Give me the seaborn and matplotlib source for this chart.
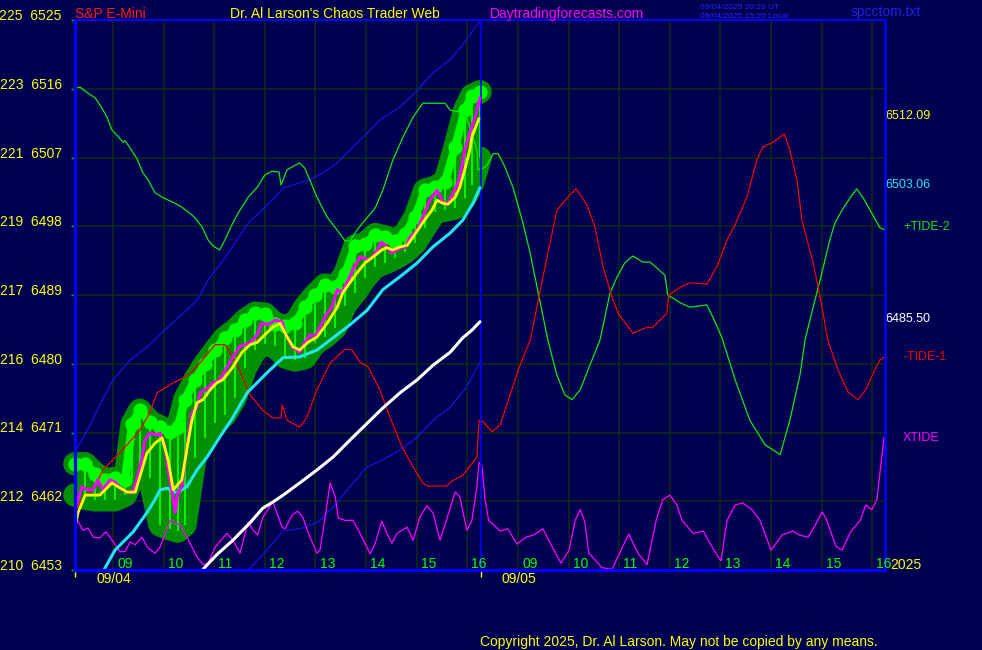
import numpy as np
import matplotlib
matplotlib.use("Agg")
import matplotlib.pyplot as plt
import matplotlib.transforms as mtrans
import seaborn as sns

# ---------------- data (time = session hours from 08:15 on 09/04; day 2 starts at 8.0) -------------
level_left = [210, 212, 214, 216, 217, 219, 221, 223, 225]
level_price = [6453, 6462, 6471, 6480, 6489, 6498, 6507, 6516, 6525]
hour_labels = ["09", "10", "11", "12", "13", "14", "15", "16"]
day_labels = ["09/04", "09/05"]

tide2 = [(0.00, 6516.1), (0.10, 6516.2), (0.26, 6515.4), (0.40, 6514.8), (0.53, 6513.5), (0.63, 6512.3),
         (0.73, 6510.6), (0.83, 6509.9), (0.95, 6509.0), (0.99, 6509.2), (1.09, 6508.2), (1.22, 6506.9),
         (1.34, 6505.0), (1.44, 6504.1), (1.58, 6502.4), (1.72, 6501.8), (1.98, 6501.0), (2.11, 6500.5),
         (2.27, 6499.7), (2.37, 6499.1), (2.51, 6497.9), (2.63, 6496.2), (2.73, 6495.4), (2.86, 6494.9),
         (2.96, 6496.2), (3.10, 6498.2), (3.22, 6499.7), (3.42, 6501.8), (3.60, 6503.1), (3.75, 6504.7),
         (3.89, 6505.2), (4.03, 6505.1), (4.07, 6503.4), (4.19, 6505.4), (4.44, 6506.3), (4.54, 6505.6),
         (4.78, 6501.8), (4.98, 6499.2), (5.18, 6497.5), (5.33, 6496.1), (5.43, 6496.1), (5.57, 6497.5),
         (5.73, 6498.8), (5.93, 6500.4), (6.08, 6502.7), (6.28, 6506.7), (6.48, 6509.7), (6.68, 6512.3),
         (6.87, 6514.1), (7.31, 6514.1), (7.41, 6513.2), (7.57, 6513.0), (7.74, 6512.2), (7.94, 6508.0),
         (7.96, 6505.4), (8.06, 6505.6), (8.14, 6506.0), (8.26, 6507.5), (8.36, 6507.5), (8.49, 6505.8),
         (8.65, 6503.1), (8.85, 6498.4), (8.99, 6494.5), (9.15, 6489.3), (9.34, 6483.1), (9.52, 6478.5),
         (9.68, 6475.9), (9.82, 6475.3), (9.98, 6476.6), (10.17, 6479.8), (10.37, 6483.1), (10.57, 6489.3),
         (10.71, 6491.4), (10.86, 6493.2), (11.02, 6494.1), (11.22, 6493.3), (11.36, 6493.3), (11.50, 6492.5),
         (11.65, 6491.6), (11.71, 6489.0), (11.95, 6488.0), (12.15, 6487.4), (12.48, 6487.7), (12.60, 6486.1),
         (12.78, 6483.4), (13.04, 6477.9), (13.33, 6472.6), (13.63, 6469.4), (13.93, 6468.1), (14.12, 6472.6),
         (14.32, 6478.5), (14.42, 6483.1), (14.58, 6487.4), (14.72, 6491.0), (14.91, 6496.2), (15.01, 6498.4),
         (15.15, 6500.1), (15.31, 6501.7), (15.44, 6502.9), (15.57, 6501.7), (15.74, 6499.7), (15.90, 6497.8),
         (16.00, 6497.5)]

tide1 = [(0.02, 6460.9), (0.14, 6462.2), (0.36, 6463.5), (0.55, 6466.1), (0.75, 6467.4), (0.99, 6469.1),
         (1.28, 6471.3), (1.48, 6473.6), (1.62, 6476.2), (1.94, 6477.5), (2.07, 6477.9), (2.31, 6478.9),
         (2.57, 6480.9), (2.77, 6482.5), (2.96, 6482.5), (3.16, 6480.5), (3.46, 6475.9), (3.71, 6473.9),
         (3.91, 6472.9), (4.07, 6472.9), (4.09, 6474.6), (4.19, 6472.6), (4.44, 6471.7), (4.58, 6473.0),
         (4.78, 6476.6), (5.04, 6480.1), (5.33, 6481.9), (5.47, 6481.8), (5.63, 6480.2), (5.79, 6479.6),
         (6.02, 6476.6), (6.22, 6473.0), (6.46, 6469.1), (6.68, 6466.5), (6.87, 6464.4), (6.97, 6464.0),
         (7.35, 6464.0), (7.41, 6464.5), (7.66, 6465.4), (7.94, 6467.8), (7.98, 6472.6), (8.06, 6472.4),
         (8.24, 6471.1), (8.40, 6472.0), (8.59, 6475.9), (8.79, 6479.8), (8.99, 6483.1), (9.15, 6488.3),
         (9.34, 6494.5), (9.52, 6500.1), (9.72, 6501.7), (9.90, 6502.9), (10.11, 6500.8), (10.27, 6497.9),
         (10.43, 6492.7), (10.61, 6488.7), (10.73, 6486.6), (11.02, 6484.0), (11.30, 6484.8), (11.40, 6484.7),
         (11.69, 6486.6), (11.73, 6489.0), (11.95, 6490.0), (12.15, 6490.6), (12.48, 6490.4), (12.68, 6492.7),
         (12.88, 6496.2), (13.04, 6498.2), (13.27, 6501.8), (13.47, 6506.7), (13.59, 6508.4), (13.79, 6509.0),
         (14.01, 6510.1), (14.12, 6508.0), (14.26, 6504.1), (14.36, 6498.8), (14.58, 6493.2), (14.72, 6488.7),
         (14.87, 6483.1), (15.07, 6479.2), (15.27, 6476.3), (15.47, 6475.3), (15.62, 6476.6), (15.80, 6479.2),
         (15.90, 6480.5), (16.00, 6480.9)]

xtide = [(0.02, 6459.8), (0.16, 6458.2), (0.26, 6458.5), (0.36, 6457.3), (0.49, 6457.2), (0.61, 6458.0),
         (0.69, 6457.3), (0.89, 6455.4), (0.99, 6455.4), (1.09, 6456.7), (1.19, 6456.3), (1.32, 6457.3),
         (1.44, 6455.9), (1.58, 6455.2), (1.68, 6456.0), (1.88, 6459.5), (2.07, 6458.9), (2.21, 6457.3),
         (2.41, 6454.7), (2.53, 6453.7), (2.63, 6453.9), (2.77, 6456.0), (3.00, 6457.8), (3.12, 6456.9),
         (3.26, 6455.2), (3.42, 6459.3), (3.52, 6458.2), (3.61, 6457.6), (3.71, 6459.9), (3.91, 6461.9),
         (4.09, 6458.6), (4.15, 6458.4), (4.29, 6460.2), (4.40, 6460.7), (4.50, 6459.9), (4.64, 6457.3),
         (4.78, 6455.2), (4.84, 6455.6), (4.94, 6459.9), (5.04, 6464.4), (5.14, 6462.6), (5.20, 6459.8),
         (5.33, 6459.5), (5.49, 6459.5), (5.63, 6457.8), (5.83, 6455.1), (5.93, 6456.5), (6.06, 6459.4),
         (6.16, 6457.8), (6.26, 6456.5), (6.36, 6457.8), (6.56, 6458.6), (6.68, 6456.9), (6.81, 6459.9),
         (6.95, 6461.4), (7.07, 6460.5), (7.21, 6456.9), (7.35, 6459.8), (7.51, 6463.2), (7.60, 6462.6),
         (7.74, 6458.2), (7.84, 6459.5), (7.94, 6463.9), (7.98, 6467.1), (8.04, 6466.5), (8.10, 6462.2),
         (8.17, 6459.5), (8.40, 6458.1), (8.55, 6458.4), (8.73, 6456.4), (8.91, 6457.3), (9.07, 6457.6),
         (9.24, 6458.4), (9.42, 6456.1), (9.60, 6453.9), (9.76, 6455.6), (9.88, 6459.5), (9.98, 6460.9),
         (10.07, 6459.3), (10.15, 6455.2), (10.41, 6453.3), (10.61, 6453.1), (10.82, 6456.1), (10.94, 6457.7),
         (11.12, 6455.2), (11.30, 6453.7), (11.48, 6459.5), (11.61, 6462.2), (11.75, 6462.8), (11.89, 6461.5),
         (11.99, 6459.5), (12.21, 6457.8), (12.41, 6458.1), (12.62, 6455.6), (12.76, 6454.2), (12.88, 6459.5),
         (13.04, 6461.5), (13.19, 6461.8), (13.37, 6460.9), (13.53, 6459.5), (13.75, 6455.6), (13.97, 6457.6),
         (14.18, 6458.1), (14.30, 6457.6), (14.48, 6457.3), (14.60, 6458.6), (14.76, 6460.6), (14.85, 6459.5),
         (15.03, 6456.1), (15.15, 6455.6), (15.33, 6458.1), (15.51, 6459.5), (15.62, 6461.5), (15.74, 6460.9),
         (15.84, 6462.2), (15.98, 6470.4)]

band_upper = [(0.00, 6468.4), (0.30, 6472.0), (0.49, 6474.6), (0.75, 6477.9), (1.09, 6480.5), (1.48, 6482.5),
              (1.88, 6485.1), (2.17, 6486.8), (2.41, 6488.3), (2.63, 6491.0), (2.90, 6493.3), (3.16, 6495.8),
              (3.42, 6498.4), (3.69, 6500.1), (3.95, 6501.8), (4.11, 6503.0), (4.64, 6504.1), (4.90, 6505.0),
              (5.18, 6506.3), (5.43, 6508.0), (5.73, 6509.9), (6.02, 6511.9), (6.42, 6513.6), (6.76, 6515.8),
              (7.07, 6518.1), (7.41, 6519.8), (7.70, 6522.1), (7.90, 6524.0), (8.02, 6525.0)]

band_lower = [(3.42, 6453.0), (3.79, 6455.6), (4.11, 6458.1), (4.50, 6458.5), (4.80, 6459.3), (5.10, 6461.2),
              (5.43, 6463.9), (5.77, 6466.5), (6.08, 6467.4), (6.42, 6468.7), (6.76, 6470.4), (7.07, 6472.6),
              (7.41, 6474.3), (7.74, 6477.0), (8.02, 6480.5)]

cyan_avg = [(0.57, 6453.0), (0.79, 6455.6), (1.15, 6458.0), (1.42, 6460.5), (1.58, 6462.2), (1.68, 6463.5),
            (1.82, 6463.7), (2.01, 6463.1), (2.21, 6463.9), (2.41, 6466.1), (2.61, 6467.8), (2.86, 6470.4),
            (3.12, 6473.0), (3.40, 6476.2), (3.79, 6478.8), (4.11, 6480.8), (4.44, 6480.9), (4.78, 6481.8),
            (5.10, 6483.4), (5.43, 6485.1), (5.77, 6487.0), (6.08, 6489.7), (6.42, 6491.4), (6.76, 6493.2),
            (7.07, 6495.3), (7.41, 6497.1), (7.66, 6498.8), (7.86, 6501.0), (8.00, 6503.06)]

white_avg = [(2.53, 6453.1), (2.80, 6455.0), (3.12, 6456.9), (3.46, 6459.2), (3.71, 6461.1), (3.91, 6461.9),
             (4.11, 6462.8), (4.44, 6464.4), (4.78, 6466.1), (5.10, 6467.8), (5.43, 6470.0), (5.77, 6472.2),
             (6.08, 6474.2), (6.42, 6476.2), (6.76, 6477.9), (7.07, 6479.8), (7.41, 6481.5), (7.66, 6483.4),
             (7.84, 6484.4), (8.00, 6485.50)]

yellow_avg = [(0.00, 6458.6), (0.06, 6460.5), (0.14, 6461.8), (0.20, 6462.8), (0.36, 6462.8), (0.49, 6462.8),
              (0.73, 6464.4), (0.85, 6463.9), (1.03, 6463.2), (1.19, 6463.2), (1.28, 6465.2), (1.42, 6468.3),
              (1.58, 6469.6), (1.72, 6470.3), (1.84, 6467.4), (1.94, 6463.5), (2.11, 6464.8), (2.23, 6469.6),
              (2.31, 6472.6), (2.41, 6474.9), (2.53, 6475.3), (2.67, 6476.6), (2.80, 6477.5), (2.92, 6477.9),
              (3.10, 6479.4), (3.30, 6481.5), (3.46, 6482.5), (3.60, 6482.8), (3.75, 6483.8), (3.91, 6484.8),
              (4.05, 6485.3), (4.19, 6483.5), (4.31, 6482.2), (4.44, 6481.8), (4.60, 6482.8), (4.78, 6483.5),
              (4.98, 6485.3), (5.18, 6487.4), (5.29, 6489.3), (5.43, 6490.6), (5.57, 6491.9), (5.73, 6493.2),
              (5.89, 6494.0), (6.06, 6494.9), (6.16, 6495.2), (6.28, 6494.9), (6.42, 6495.3), (6.56, 6495.5),
              (6.68, 6496.6), (6.81, 6497.9), (6.95, 6499.2), (7.05, 6500.1), (7.15, 6501.4), (7.27, 6501.0),
              (7.37, 6500.9), (7.51, 6501.8), (7.60, 6503.1), (7.70, 6505.4), (7.80, 6508.0), (7.84, 6509.7),
              (7.98, 6512.09)]

price = [(0.00, 6460.6), (0.06, 6462.2), (0.14, 6463.9), (0.24, 6463.5), (0.36, 6463.5), (0.45, 6464.8),
         (0.55, 6463.5), (0.69, 6464.8), (0.79, 6464.5), (0.93, 6463.5), (1.03, 6463.2), (1.13, 6463.1),
         (1.22, 6464.8), (1.32, 6467.4), (1.38, 6470.0), (1.48, 6470.9), (1.62, 6470.7), (1.68, 6470.9),
         (1.78, 6469.1), (1.84, 6466.1), (1.92, 6463.1), (1.98, 6460.5), (2.03, 6463.1), (2.11, 6463.9),
         (2.21, 6469.1), (2.31, 6473.6), (2.41, 6474.3), (2.47, 6476.2), (2.61, 6476.8), (2.73, 6477.5),
         (2.86, 6477.9), (3.06, 6480.2), (3.26, 6482.3), (3.46, 6482.7), (3.60, 6483.8), (3.69, 6485.3),
         (3.81, 6485.1), (3.95, 6485.7), (4.09, 6485.5), (4.15, 6484.0), (4.29, 6482.2), (4.44, 6481.5),
         (4.54, 6482.8), (4.64, 6483.8), (4.74, 6483.5), (4.84, 6484.8), (4.98, 6486.6), (5.08, 6487.4),
         (5.18, 6489.7), (5.27, 6489.3), (5.37, 6490.6), (5.49, 6492.3), (5.63, 6494.0), (5.73, 6493.8),
         (5.83, 6493.6), (5.97, 6494.9), (6.06, 6495.9), (6.16, 6495.3), (6.26, 6494.5), (6.36, 6494.9),
         (6.46, 6495.3), (6.52, 6495.2), (6.62, 6496.6), (6.76, 6497.5), (6.87, 6499.2), (7.01, 6501.4),
         (7.15, 6502.7), (7.25, 6501.4), (7.35, 6500.8), (7.47, 6502.4), (7.57, 6503.7), (7.64, 6505.8),
         (7.70, 6508.0), (7.80, 6510.3), (7.92, 6512.6), (8.00, 6514.8)]

# price-bar envelope (bar highs / bar lows)
bars_t = [0.00, 0.20, 0.40, 0.59, 0.79, 0.99, 1.13, 1.28, 1.48, 1.68, 1.88, 2.03, 2.17, 2.37, 2.57,
          2.77, 2.96, 3.16, 3.36, 3.56, 3.75, 3.95, 4.15, 4.35, 4.54, 4.74, 4.94, 5.14, 5.33, 5.53,
          5.73, 5.93, 6.12, 6.32, 6.52, 6.72, 6.91, 7.11, 7.31, 7.51, 7.70, 7.84, 8.00]
bars_high = [6466.9, 6466.9, 6465.6, 6464.8, 6465.0, 6464.8, 6472.1, 6473.9, 6472.4, 6471.7, 6471.1, 6471.7,
             6475.3, 6477.9, 6480.0, 6481.8, 6483.4, 6484.4, 6485.7, 6486.6, 6486.5, 6485.2, 6484.9, 6485.3,
             6487.4, 6489.0, 6490.3, 6490.0, 6491.7, 6495.4, 6495.7, 6496.9, 6496.6, 6496.1, 6497.0, 6499.2,
             6502.7, 6503.1, 6503.8, 6508.4, 6513.2, 6515.1, 6515.6]
bars_low = [6462.8, 6462.4, 6462.2, 6462.2, 6462.2, 6462.8, 6465.0, 6465.0, 6465.0, 6458.9, 6458.4, 6458.1,
            6458.9, 6467.7, 6470.3, 6472.2, 6473.3, 6475.5, 6479.4, 6481.8, 6482.6, 6482.3, 6480.9, 6480.5,
            6480.8, 6482.7, 6483.5, 6484.7, 6487.6, 6489.3, 6491.2, 6492.7, 6493.2, 6493.8, 6494.6, 6495.8,
            6497.8, 6499.9, 6500.1, 6500.4, 6501.7, 6503.4, 6506.9]

# ---------------- style ----------------
sns.set_style("dark")
plt.rcParams['font.family'] = ['Liberation Sans', 'DejaVu Sans']

W, H = 982, 650
BG = '#000050'
GRID = '#0e2c12'
BLUE = '#0000FF'
YEL = '#FFFF00'
LIME = '#00FF00'
DKG = '#009000'

fig = plt.figure(figsize=(W / 100, H / 100), dpi=100, facecolor=BG)
ax = fig.add_axes([75 / W, 80 / H, 810 / W, 550 / H], facecolor=BG)
ax.set_xlim(0, 16)
ax.set_ylim(6453, 6525)
ax.grid(False)

# grid lines
for off in (0, 8):
    for k in range(len(hour_labels)):
        ax.axvline(off + 0.75 + k, color=GRID, lw=1.1, zorder=0.5)
for lv in level_price[1:-1]:
    ax.axhline(lv, color=GRID, lw=1.1, zorder=0.5)

# price bar blob
bt = np.array(bars_t)
bh = np.array(bars_high)
bl = np.array(bars_low)
ax.fill_between(bt, bl, bh, color=DKG, lw=0, zorder=2, clip_on=False)
for arr in (bh, bl):
    ax.plot(bt, arr, color=DKG, lw=17, solid_capstyle='round', solid_joinstyle='round',
            zorder=2, clip_on=False)
ax.vlines(bt, bl, bh, color=LIME, lw=1.3, zorder=2.1)
ax.plot(bt, bh, color=LIME, lw=6, solid_capstyle='round', solid_joinstyle='round', zorder=2.2, clip_on=False)
ax.scatter(bt, bh, s=105, color=LIME, lw=0, zorder=2.3, clip_on=False)


def line(seq, color, lw, z):
    a = np.array(seq, dtype=float)
    sns.lineplot(x=a[:, 0], y=a[:, 1], ax=ax, color=color, linewidth=lw, estimator=None,
                 sort=False, legend=False, zorder=z)


line(band_upper, '#1414E0', 0.9, 3)
line(band_lower, '#1414E0', 0.9, 3)
line(tide2, '#10E810', 0.9, 3)
line(tide1, '#F00000', 0.9, 3)
line(xtide, '#FF00FF', 0.9, 3)
line(white_avg, '#FFFFFF', 2.2, 4)
line(cyan_avg, '#22E6F2', 2.2, 4)
line(price, '#FF00FF', 2.2, 5)
line(yellow_avg, YEL, 2.0, 6)

# day separator
ax.axvline(8.02, color=BLUE, lw=1.2, zorder=3.5)

# spines
for side, w in (('left', 2.4), ('bottom', 2.4), ('top', 1.5), ('right', 1.8)):
    ax.spines[side].set_color(BLUE)
    ax.spines[side].set_linewidth(w)
    ax.spines[side].set_zorder(7)

# y ticks
ax.set_yticks(level_price)
ax.set_yticklabels([f"{a}  {b}" for a, b in zip(level_left, level_price)])
ax.tick_params(axis='y', colors='#00C000', labelcolor=YEL, length=3, width=1, direction='out',
               pad=6.5, labelsize=10, left=True)
for lab in ax.get_yticklabels():
    lab.set_verticalalignment('baseline')

# x ticks: day starts
ax.set_xticks([0.0, 8.02])
ax.set_xticklabels(["", ""])
ax.tick_params(axis='x', colors=YEL, length=5, width=1, direction='out', bottom=True)

# hour labels inside plot
for off in (0, 8):
    for k, lab in enumerate(hour_labels):
        ax.text(off + 0.75 + k + 0.08, 6453.3, lab, color=LIME, fontsize=10, ha='left',
                va='baseline', zorder=8, clip_on=False)

blend = mtrans.blended_transform_factory(ax.transData, fig.transFigure)
for off, lab in zip((0.43, 8.43), day_labels):
    ax.text(off, 1 - 583 / H, lab, color=YEL, fontsize=10, ha='left', va='baseline', transform=blend)


def ftext(x, y, s, color, size):
    fig.text(x / W, 1 - y / H, s, color=color, fontsize=size, ha='left', va='baseline')


# top titles
ftext(75, 18, "S&P E-Mini", '#FF1A1A', 10)
ftext(230, 18, "Dr. Al Larson's Chaos Trader Web", YEL, 10)
ftext(490, 18, "Daytradingforecasts.com", '#FF00FF', 10)
ftext(700, 9, "09/04/2025 20:20 UT", '#2626FF', 6)
ftext(700, 18, "09/04/2025 15:20 Local", '#2626FF', 6)
ftext(851, 16, "spcctom.txt", '#2020E8', 10)

# right-side value labels
rb = mtrans.blended_transform_factory(ax.transAxes, ax.transData)
for seq, col in ((yellow_avg, YEL), (cyan_avg, '#22E6F2'), (white_avg, '#FFFFFF')):
    v = seq[-1][1]
    ax.text(1.0, v, f"{v:.2f}", color=col, fontsize=9, ha='left', va='baseline', transform=rb,
            clip_on=False)
ftext(903, 230, "+TIDE-2", '#10E810', 9)
ftext(903, 360, "-TIDE-1", '#F00000', 9)
ftext(903, 441, "XTIDE", '#FF00FF', 9)
ftext(890, 569, "2025", YEL, 10)
ftext(480, 646, "Copyright 2025, Dr. Al Larson. May not be copied by any means.", YEL, 10)

fig.savefig("out.png", dpi=100, facecolor=BG)
